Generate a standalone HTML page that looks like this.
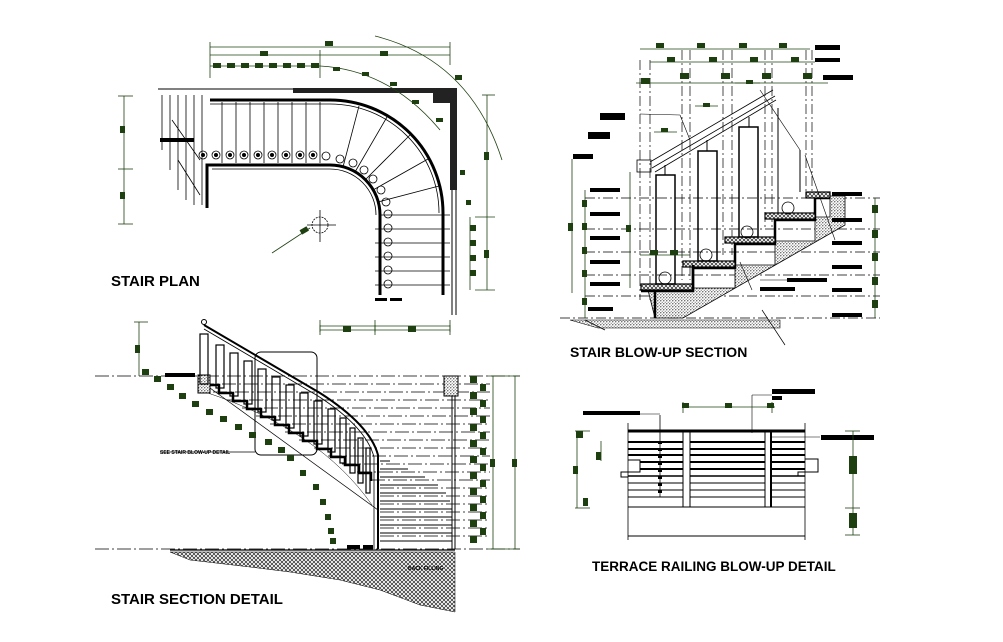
<!DOCTYPE html>
<html><head><meta charset="utf-8"><style>
html,body{margin:0;padding:0;background:#fff;}
svg{display:block;}
text{font-family:"Liberation Sans",sans-serif;font-weight:bold;}
</style></head><body>
<svg width="1003" height="642" viewBox="0 0 1003 642" xmlns="http://www.w3.org/2000/svg">
<rect width="1003" height="642" fill="#fff"/>
<defs>
<pattern id="dots" width="3" height="3" patternUnits="userSpaceOnUse"><rect width="3" height="3" fill="#fff"/><circle cx="0.8" cy="0.8" r="0.6" fill="#000"/><circle cx="2.2" cy="2.2" r="0.5" fill="#333"/></pattern>
<pattern id="hatch" width="4" height="4" patternUnits="userSpaceOnUse"><rect width="4" height="4" fill="#fff"/><path d="M0 4L4 0M0 0L4 4" stroke="#222" stroke-width="0.7"/></pattern>
</defs>

<!-- ================= STAIR PLAN ================= -->
<g stroke="#000" fill="none">
 <line x1="158" y1="89" x2="293" y2="89" stroke-width="1"/>
 <rect x="293" y="88" width="164" height="5" fill="#222" stroke="none"/>
 <rect x="433" y="88" width="24" height="15" fill="#222" stroke="none"/>
 <rect x="450" y="88" width="7" height="102" fill="#222" stroke="none"/>
 <line x1="452" y1="190" x2="452" y2="315" stroke-width="1"/>
 <line x1="456" y1="190" x2="456" y2="315" stroke-width="1"/>
 <g stroke-width="0.8">
  <line x1="162" y1="95" x2="162" y2="150"/><line x1="170" y1="95" x2="170" y2="170"/><line x1="178" y1="95" x2="178" y2="190"/>
  <line x1="186" y1="95" x2="186" y2="200"/><line x1="194" y1="95" x2="194" y2="205"/><line x1="202" y1="95" x2="202" y2="205"/>
  <line x1="172" y1="120" x2="200" y2="160"/><line x1="178" y1="160" x2="200" y2="195"/>
 </g>
 <path d="M210 100 H330 A113 113 0 0 1 443 213 V295" stroke-width="3"/>
 <path d="M210 104 H330 A109 109 0 0 1 439 213" stroke-width="0.8"/>
 <path d="M207 208 V165 H330 A50 50 0 0 1 380 215 V295" stroke-width="3"/>
 <path d="M212 169 H330 A46 46 0 0 1 376 215" stroke-width="0.8"/>
 <g stroke-width="0.8">
  <line x1="222" y1="102" x2="222" y2="163"/><line x1="236" y1="102" x2="236" y2="163"/><line x1="250" y1="102" x2="250" y2="163"/>
  <line x1="264" y1="102" x2="264" y2="163"/><line x1="278" y1="102" x2="278" y2="163"/><line x1="292" y1="102" x2="292" y2="163"/>
  <line x1="306" y1="102" x2="306" y2="163"/><line x1="320" y1="102" x2="320" y2="163"/>
  <line x1="343" y1="167" x2="359" y2="106"/><line x1="355" y1="172" x2="387" y2="117"/><line x1="365" y1="180" x2="410" y2="135"/>
  <line x1="373" y1="190" x2="428" y2="159"/><line x1="378" y1="202" x2="439" y2="186"/><line x1="380" y1="215" x2="450" y2="215"/>
  <line x1="375" y1="229" x2="450" y2="229"/><line x1="375" y1="243" x2="450" y2="243"/><line x1="375" y1="257" x2="450" y2="257"/>
  <line x1="375" y1="271" x2="450" y2="271"/><line x1="375" y1="285" x2="450" y2="285"/>
 </g>
 <g stroke-width="0.8">
  <circle cx="203" cy="155" r="4"/><circle cx="216" cy="155" r="4"/><circle cx="230" cy="155" r="4"/><circle cx="244" cy="155" r="4"/>
  <circle cx="258" cy="155" r="4"/><circle cx="272" cy="155" r="4"/><circle cx="286" cy="155" r="4"/><circle cx="300" cy="155" r="4"/>
  <circle cx="313" cy="155" r="4"/><circle cx="326" cy="156" r="4"/><circle cx="340" cy="159" r="4"/><circle cx="353" cy="163" r="4"/>
  <circle cx="364" cy="170" r="4"/><circle cx="373" cy="179" r="4"/><circle cx="381" cy="190" r="4"/><circle cx="386" cy="202" r="4"/>
  <circle cx="388" cy="214" r="4"/><circle cx="388" cy="228" r="4"/><circle cx="388" cy="242" r="4"/><circle cx="388" cy="256" r="4"/>
  <circle cx="388" cy="270" r="4"/><circle cx="388" cy="284" r="4"/>
 </g>
 <g fill="#000" stroke="none">
  <circle cx="203" cy="155" r="2"/><circle cx="216" cy="155" r="2"/><circle cx="230" cy="155" r="2"/><circle cx="244" cy="155" r="2"/>
  <circle cx="258" cy="155" r="2"/><circle cx="272" cy="155" r="2"/><circle cx="286" cy="155" r="2"/><circle cx="300" cy="155" r="2"/><circle cx="313" cy="155" r="2"/>
 </g>
 <circle cx="320" cy="225" r="8" stroke-dasharray="2 1" stroke-width="0.8"/>
 <line x1="307" y1="225" x2="336" y2="225" stroke-width="0.8"/><line x1="320" y1="210" x2="320" y2="242" stroke-width="0.8"/>
 <rect x="375" y="298" width="12" height="3" fill="#000" stroke="none"/><rect x="390" y="298" width="12" height="3" fill="#000" stroke="none"/>
 <rect x="160" y="138" width="34" height="4" fill="#000" stroke="none"/>
</g>
<g stroke="#1e4010" fill="none" stroke-width="0.8">
 <line x1="210" y1="47" x2="450" y2="47"/><line x1="210" y1="55" x2="450" y2="55"/><line x1="210" y1="66" x2="320" y2="66"/>
 <line x1="210" y1="42" x2="210" y2="78"/><line x1="450" y1="42" x2="450" y2="65"/><line x1="320" y1="50" x2="320" y2="78"/>
 <path d="M320 66 Q390 70 440 130"/>
 <path d="M375 36 Q470 60 502 160"/>
 <line x1="124" y1="96" x2="124" y2="224"/><line x1="118" y1="96" x2="133" y2="96"/><line x1="118" y1="169" x2="133" y2="169"/><line x1="118" y1="224" x2="133" y2="224"/>
 <line x1="487" y1="95" x2="487" y2="290"/><line x1="482" y1="95" x2="495" y2="95"/><line x1="475" y1="217" x2="495" y2="217"/><line x1="475" y1="290" x2="495" y2="290"/>
 <line x1="470" y1="217" x2="470" y2="290"/>
 <line x1="272" y1="253" x2="310" y2="228"/>
 <line x1="320" y1="326" x2="450" y2="326"/><line x1="320" y1="320" x2="320" y2="332"/><line x1="450" y1="320" x2="450" y2="332"/><line x1="375" y1="320" x2="375" y2="332"/>
</g>
<g fill="#1e4010">
 <rect x="325" y="41" width="8" height="5"/><rect x="260" y="51" width="8" height="5"/><rect x="380" y="51" width="8" height="5"/>
 <rect x="213" y="63" width="8" height="5"/><rect x="227" y="63" width="8" height="5"/><rect x="241" y="63" width="8" height="5"/><rect x="255" y="63" width="8" height="5"/>
 <rect x="269" y="63" width="8" height="5"/><rect x="283" y="63" width="8" height="5"/><rect x="297" y="63" width="8" height="5"/><rect x="311" y="63" width="8" height="5"/>
 <rect x="333" y="67" width="7" height="4"/><rect x="362" y="72" width="7" height="4"/><rect x="390" y="82" width="7" height="4"/><rect x="412" y="100" width="7" height="4"/>
 <rect x="436" y="118" width="7" height="4"/><rect x="455" y="75" width="7" height="5"/>
 <rect x="120" y="126" width="5" height="7"/><rect x="120" y="192" width="5" height="7"/>
 <rect x="484" y="152" width="5" height="8"/><rect x="484" y="250" width="5" height="8"/>
 <rect x="470" y="225" width="6" height="6"/><rect x="470" y="240" width="6" height="6"/><rect x="470" y="255" width="6" height="6"/><rect x="470" y="270" width="6" height="6"/>
 <rect x="460" y="170" width="5" height="5"/><rect x="466" y="200" width="5" height="5"/>
 <rect x="300" y="228" width="8" height="5" transform="rotate(-30 304 230)"/>
 <rect x="343" y="326" width="8" height="5"/><rect x="408" y="326" width="8" height="5"/>
</g>
<text x="111" y="286" font-size="15">STAIR PLAN</text>

<!-- ================= STAIR SECTION ================= -->
<g stroke="#000" fill="none" stroke-width="0.7" stroke-dasharray="14 3 2 3">
 <line x1="95" y1="376" x2="520" y2="376"/>
 <line x1="200" y1="384" x2="490" y2="384"/><line x1="213" y1="392" x2="490" y2="392"/>
 <line x1="227" y1="400" x2="490" y2="400"/><line x1="242" y1="408" x2="490" y2="408"/><line x1="256" y1="416" x2="490" y2="416"/>
 <line x1="270" y1="424" x2="490" y2="424"/><line x1="285" y1="432" x2="490" y2="432"/><line x1="299" y1="440" x2="490" y2="440"/>
 <line x1="314" y1="448" x2="490" y2="448"/><line x1="328" y1="456" x2="490" y2="456"/><line x1="342" y1="464" x2="490" y2="464"/>
 <line x1="357" y1="472" x2="490" y2="472"/><line x1="371" y1="480" x2="490" y2="480"/><line x1="380" y1="488" x2="490" y2="488"/>
 <line x1="380" y1="496" x2="490" y2="496"/><line x1="380" y1="504" x2="490" y2="504"/><line x1="380" y1="512" x2="490" y2="512"/>
 <line x1="380" y1="520" x2="490" y2="520"/><line x1="380" y1="528" x2="490" y2="528"/><line x1="380" y1="536" x2="490" y2="536"/>
 <line x1="95" y1="549" x2="520" y2="549"/>
</g>
<g stroke="#000" fill="none">
 <line x1="170" y1="550" x2="455" y2="550" stroke-width="1.2"/>
 <path d="M170 552 H455 V612 L420 605 L380 590 L340 580 L290 572 L250 567 L190 560 Z" fill="url(#hatch)" stroke-width="0.5"/>
 <path d="M205 385 h14 v8 h14 v8 h14 v8 h14 v8 h14 v8 h14 v8 h14 v8 h14 v8 h14 v8 h14 v8 h14 v8 h12 v8" stroke-width="2.5"/>
 <line x1="210" y1="388" x2="378" y2="510" stroke-width="0.7"/>
 <path d="M205 392 Q320 430 372 505" stroke-width="0.5"/>
 <rect x="198" y="375" width="12" height="18" fill="url(#dots)" stroke-width="1"/>
 <path d="M204 325 L320 393 Q370 425 378 455 V549" stroke-width="2"/>
 <path d="M204 329 L318 396 Q366 427 374 457 V549" stroke-width="0.8"/>
 <circle cx="204" cy="322" r="2.5"/>
 <g stroke-width="1.2">
  <rect x="200" y="334" width="8" height="50"/>
  <rect x="216" y="345" width="8" height="43"/><rect x="230" y="353" width="8" height="43"/><rect x="244" y="361" width="8" height="43"/>
  <rect x="258" y="369" width="8" height="43"/><rect x="272" y="377" width="8" height="43"/><rect x="286" y="385" width="8" height="43"/>
  <rect x="300" y="393" width="8" height="43"/><rect x="314" y="401" width="8" height="43"/><rect x="328" y="409" width="7" height="43"/>
  <rect x="340" y="418" width="6" height="45"/><rect x="350" y="428" width="5" height="45"/><rect x="358" y="438" width="5" height="45"/>
  <rect x="366" y="448" width="4" height="45"/>
 </g>
 <rect x="255" y="352" width="62" height="103" rx="6" stroke-width="1"/>
 <g stroke-width="1">
  <line x1="380" y1="461" x2="390" y2="461"/><line x1="380" y1="469" x2="408" y2="469"/><line x1="380" y1="477" x2="425" y2="477"/>
  <line x1="380" y1="485" x2="438" y2="485"/><line x1="380" y1="493" x2="446" y2="493"/><line x1="380" y1="501" x2="450" y2="501"/>
  <line x1="380" y1="509" x2="452" y2="509"/><line x1="380" y1="517" x2="452" y2="517"/><line x1="380" y1="525" x2="452" y2="525"/>
  <line x1="380" y1="533" x2="452" y2="533"/><line x1="380" y1="541" x2="452" y2="541"/>
 </g>
 <rect x="444" y="376" width="14" height="20" fill="url(#dots)" stroke-width="1"/>
 <line x1="452" y1="396" x2="452" y2="549"/><line x1="455" y1="396" x2="455" y2="549"/>
 <line x1="160" y1="452" x2="255" y2="452" stroke-width="0.7"/>
 <rect x="165" y="373" width="30" height="4" fill="#000" stroke="none"/>
 <rect x="347" y="545" width="13" height="4" fill="#000" stroke="none"/><rect x="363" y="545" width="10" height="4" fill="#000" stroke="none"/>
</g>
<text x="160" y="454" font-size="5" fill="#000">SEE STAIR BLOW-UP DETAIL</text>
<text x="408" y="570" font-size="5" fill="#000">BACK FILLING</text>
<g stroke="#1e4010" fill="none" stroke-width="0.8">
 <line x1="139" y1="322" x2="139" y2="376"/><line x1="134" y1="322" x2="148" y2="322"/>
 <line x1="320" y1="330" x2="450" y2="330"/><line x1="320" y1="325" x2="320" y2="335"/><line x1="375" y1="325" x2="375" y2="335"/><line x1="450" y1="325" x2="450" y2="335"/>
 <line x1="493" y1="376" x2="493" y2="549"/><line x1="515" y1="376" x2="515" y2="549"/>
 <line x1="488" y1="376" x2="520" y2="376"/><line x1="488" y1="549" x2="520" y2="549"/>
</g>
<g fill="#1e4010">
 <rect x="135" y="345" width="5" height="8"/><rect x="343" y="327" width="8" height="5"/><rect x="408" y="327" width="8" height="5"/>
 <rect x="490" y="459" width="5" height="8"/><rect x="512" y="459" width="5" height="8"/>
 <rect x="142" y="369" width="7" height="6"/><rect x="154" y="376" width="7" height="6"/><rect x="167" y="384" width="7" height="6"/>
 <rect x="179" y="393" width="7" height="6"/><rect x="192" y="401" width="7" height="6"/><rect x="206" y="409" width="7" height="6"/>
 <rect x="220" y="416" width="7" height="6"/><rect x="235" y="424" width="7" height="6"/><rect x="249" y="432" width="7" height="6"/>
 <rect x="265" y="439" width="7" height="6"/><rect x="278" y="447" width="7" height="6"/><rect x="287" y="455" width="7" height="6"/>
 <rect x="300" y="470" width="6" height="6"/><rect x="313" y="484" width="6" height="6"/><rect x="320" y="499" width="6" height="6"/>
 <rect x="325" y="514" width="6" height="6"/><rect x="328" y="528" width="6" height="6"/><rect x="330" y="538" width="6" height="6"/>
 <rect x="470" y="376" width="7" height="7"/><rect x="470" y="392" width="7" height="7"/><rect x="470" y="408" width="7" height="7"/>
 <rect x="470" y="424" width="7" height="7"/><rect x="470" y="440" width="7" height="7"/><rect x="470" y="456" width="7" height="7"/>
 <rect x="470" y="472" width="7" height="7"/><rect x="470" y="488" width="7" height="7"/><rect x="470" y="504" width="7" height="7"/>
 <rect x="470" y="520" width="7" height="7"/><rect x="470" y="536" width="7" height="7"/>
 <rect x="480" y="384" width="6" height="7"/><rect x="480" y="400" width="6" height="7"/><rect x="480" y="416" width="6" height="7"/>
 <rect x="480" y="432" width="6" height="7"/><rect x="480" y="448" width="6" height="7"/><rect x="480" y="464" width="6" height="7"/>
 <rect x="480" y="480" width="6" height="7"/><rect x="480" y="496" width="6" height="7"/><rect x="480" y="512" width="6" height="7"/><rect x="480" y="528" width="6" height="7"/>
</g>
<text x="111" y="604" font-size="15">STAIR SECTION DETAIL</text>

<!-- ================= STAIR BLOW-UP ================= -->
<g stroke="#000" fill="none" stroke-width="0.7" stroke-dasharray="10 3 2 3">
 <line x1="560" y1="318" x2="880" y2="318"/><line x1="585" y1="296" x2="880" y2="296"/><line x1="585" y1="275" x2="880" y2="275"/>
 <line x1="585" y1="252" x2="880" y2="252"/><line x1="585" y1="229" x2="880" y2="229"/><line x1="585" y1="198" x2="880" y2="198"/>
 <line x1="640" y1="60" x2="640" y2="300"/><line x1="650" y1="60" x2="650" y2="300"/><line x1="682" y1="50" x2="682" y2="280"/><line x1="690" y1="50" x2="690" y2="280"/>
 <line x1="723" y1="50" x2="723" y2="255"/><line x1="732" y1="50" x2="732" y2="255"/><line x1="765" y1="50" x2="765" y2="230"/><line x1="772" y1="50" x2="772" y2="230"/>
 <line x1="806" y1="50" x2="806" y2="195"/><line x1="812" y1="50" x2="812" y2="195"/>
</g>
<g stroke="#000" fill="none">
 <path d="M648 290 L655 318 L683 318 L845 225 L845 196 L830 196 L830 217 L815 217 L815 241 L775 241 L775 265 L735 265 L735 288 L693 288 L693 290 Z" fill="url(#dots)" stroke-width="0.8"/>
 <path d="M570 320 L780 320 L780 328 L598 328 Z" fill="url(#dots)" stroke-width="0.6"/>
 <path d="M641 291 H693 V268 H735 V244 H775 V220 H815 V198 H830" stroke-width="2.5"/>
 <rect x="641" y="284" width="52" height="6" fill="url(#hatch)" stroke-width="1.2"/>
 <rect x="683" y="261" width="52" height="6" fill="url(#hatch)" stroke-width="1.2"/>
 <rect x="725" y="237" width="50" height="6" fill="url(#hatch)" stroke-width="1.2"/>
 <rect x="765" y="213" width="50" height="6" fill="url(#hatch)" stroke-width="1.2"/>
 <rect x="806" y="192" width="24" height="6" fill="url(#hatch)" stroke-width="1.2"/>
 <line x1="655" y1="290" x2="655" y2="318" stroke-width="2.5"/>
 <line x1="693" y1="265" x2="693" y2="290" stroke-width="2.5"/>
 <g stroke-width="1.5">
  <rect x="656" y="175" width="19" height="109"/><rect x="698" y="151" width="19" height="110"/><rect x="739" y="127" width="19" height="110"/>
 </g>
 <line x1="778" y1="108" x2="778" y2="213" stroke-width="1"/><line x1="800" y1="150" x2="800" y2="192" stroke-width="1"/>
 <line x1="665" y1="165" x2="665" y2="175"/><line x1="707" y1="140" x2="707" y2="151"/><line x1="749" y1="117" x2="749" y2="127"/>
 <path d="M650 162 L773 90 M652 168 L775 96 M655 172 L776 100" stroke-width="0.8"/>
 <rect x="637" y="160" width="14" height="12" stroke-width="0.8"/>
 <line x1="585" y1="320" x2="605" y2="330" stroke-width="0.7"/><line x1="762" y1="310" x2="785" y2="345" stroke-width="0.7"/>
 <line x1="640" y1="114" x2="680" y2="115" stroke-width="0.6"/><line x1="680" y1="115" x2="690" y2="140" stroke-width="0.6"/>
 <line x1="760" y1="90" x2="800" y2="150" stroke-width="0.6"/><line x1="805" y1="155" x2="835" y2="240" stroke-width="0.6"/>
 <line x1="760" y1="280" x2="820" y2="280" stroke-width="0.6"/><line x1="740" y1="262" x2="752" y2="290" stroke-width="0.6"/>
 <circle cx="665" cy="278" r="6" stroke-width="0.8"/><circle cx="706" cy="255" r="6" stroke-width="0.8"/><circle cx="747" cy="232" r="6" stroke-width="0.8"/><circle cx="788" cy="208" r="6" stroke-width="0.8"/>
</g>
<g fill="#000">
 <rect x="815" y="45" width="25" height="5"/><rect x="815" y="58" width="25" height="4"/><rect x="823" y="75" width="30" height="5"/>
 <rect x="600" y="113" width="25" height="7"/><rect x="588" y="132" width="22" height="7"/><rect x="573" y="154" width="20" height="5"/>
 <rect x="590" y="188" width="30" height="4"/><rect x="590" y="212" width="30" height="4"/><rect x="590" y="236" width="30" height="4"/>
 <rect x="590" y="260" width="30" height="4"/><rect x="590" y="282" width="30" height="4"/><rect x="588" y="307" width="25" height="4"/>
 <rect x="832" y="192" width="30" height="4"/><rect x="832" y="218" width="30" height="4"/><rect x="832" y="241" width="30" height="4"/>
 <rect x="832" y="265" width="30" height="4"/><rect x="832" y="288" width="30" height="4"/><rect x="832" y="313" width="30" height="4"/>
 <rect x="787" y="278" width="40" height="4"/><rect x="760" y="287" width="35" height="4"/>
</g>
<g stroke="#1e4010" fill="none" stroke-width="0.8">
 <line x1="640" y1="49" x2="810" y2="49"/><line x1="650" y1="62" x2="815" y2="62"/>
 <line x1="636" y1="83" x2="828" y2="83"/>
 <line x1="572" y1="159" x2="572" y2="293"/><line x1="585" y1="190" x2="585" y2="318"/><line x1="630" y1="172" x2="630" y2="288"/>
 <line x1="875" y1="198" x2="875" y2="318"/><line x1="640" y1="255" x2="690" y2="255"/><line x1="695" y1="106" x2="718" y2="106"/><line x1="654" y1="132" x2="677" y2="132"/><line x1="735" y1="83" x2="760" y2="83"/>
</g>
<g fill="#1e4010">
 <rect x="656" y="43" width="8" height="5"/><rect x="697" y="43" width="8" height="5"/><rect x="739" y="43" width="8" height="5"/><rect x="779" y="43" width="8" height="5"/>
 <rect x="667" y="57" width="8" height="5"/><rect x="709" y="57" width="8" height="5"/><rect x="750" y="57" width="8" height="5"/><rect x="791" y="57" width="8" height="5"/>
 <rect x="641" y="78" width="9" height="6"/><rect x="680" y="73" width="9" height="6"/><rect x="721" y="73" width="9" height="6"/><rect x="762" y="73" width="9" height="6"/><rect x="803" y="73" width="9" height="6"/>
 <rect x="746" y="80" width="7" height="4"/><rect x="703" y="103" width="7" height="4"/><rect x="661" y="128" width="7" height="4"/>
 <rect x="568" y="223" width="5" height="8"/><rect x="582" y="200" width="5" height="7"/><rect x="582" y="223" width="5" height="7"/><rect x="582" y="247" width="5" height="7"/>
 <rect x="582" y="270" width="5" height="7"/><rect x="582" y="298" width="5" height="7"/><rect x="626" y="225" width="5" height="7"/>
 <rect x="872" y="205" width="6" height="8"/><rect x="872" y="230" width="6" height="8"/><rect x="872" y="253" width="6" height="8"/><rect x="872" y="277" width="6" height="8"/><rect x="872" y="300" width="6" height="8"/>
 <rect x="650" y="250" width="8" height="5"/><rect x="670" y="250" width="8" height="5"/>
</g>
<text x="570" y="357" font-size="14">STAIR BLOW-UP SECTION</text>

<!-- ================= TERRACE RAILING ================= -->
<g stroke="#000" fill="none">
 <line x1="628" y1="423" x2="628" y2="540" stroke-width="0.8"/><line x1="805" y1="423" x2="805" y2="540" stroke-width="0.8"/>
 <line x1="628" y1="431" x2="805" y2="431" stroke-width="3"/>
 <line x1="628" y1="442" x2="805" y2="442" stroke-width="2"/><line x1="628" y1="449" x2="805" y2="449" stroke-width="2"/>
 <line x1="628" y1="455" x2="805" y2="455" stroke-width="2"/><line x1="640" y1="462" x2="805" y2="462" stroke-width="2"/>
 <line x1="640" y1="469" x2="805" y2="469" stroke-width="2"/><line x1="628" y1="476" x2="805" y2="476" stroke-width="1.5"/>
 <line x1="628" y1="483" x2="805" y2="483" stroke-width="1"/><line x1="628" y1="490" x2="805" y2="490" stroke-width="1"/>
 <line x1="628" y1="497" x2="805" y2="497" stroke-width="1"/><line x1="628" y1="507" x2="805" y2="507" stroke-width="1"/>
 <line x1="628" y1="536" x2="805" y2="536" stroke-width="1"/>
 <path d="M628 460 H640 V472 H621 V477 H628" stroke-width="1"/>
 <path d="M805 459 H818 V472 H798 V476" stroke-width="1"/>
 <rect x="683" y="432" width="7" height="75" fill="#fff" stroke-width="1"/><rect x="765" y="432" width="6" height="75" fill="#fff" stroke-width="1"/>
 <line x1="771" y1="432" x2="771" y2="507" stroke-width="2"/>
 <line x1="660" y1="415" x2="660" y2="497" stroke-width="0.8"/>
 <line x1="640" y1="414" x2="660" y2="414" stroke-width="0.6"/>
 <line x1="752" y1="395" x2="752" y2="433" stroke-width="0.6"/><line x1="752" y1="395" x2="772" y2="395" stroke-width="0.6"/>
 <line x1="771" y1="437" x2="820" y2="437" stroke-width="0.6"/>
</g>
<g fill="#000">
 <rect x="583" y="411" width="57" height="4"/><rect x="772" y="389" width="43" height="5"/><rect x="772" y="396" width="10" height="4"/><rect x="821" y="435" width="53" height="5"/>
 <rect x="658" y="441" width="4" height="3"/><rect x="658" y="448" width="4" height="3"/><rect x="658" y="455" width="4" height="3"/><rect x="658" y="462" width="4" height="3"/>
 <rect x="658" y="469" width="4" height="3"/><rect x="658" y="476" width="4" height="3"/><rect x="658" y="483" width="4" height="3"/><rect x="658" y="490" width="4" height="3"/>
</g>
<g stroke="#1e4010" fill="none" stroke-width="0.8">
 <line x1="683" y1="407" x2="775" y2="407"/><line x1="683" y1="402" x2="683" y2="413"/><line x1="772" y1="402" x2="772" y2="413"/>
 <line x1="577" y1="431" x2="577" y2="508"/><line x1="575" y1="431" x2="590" y2="431"/><line x1="575" y1="508" x2="590" y2="508"/>
 <line x1="601" y1="441" x2="601" y2="461"/><line x1="853" y1="431" x2="853" y2="535"/><line x1="845" y1="431" x2="860" y2="431"/><line x1="845" y1="508" x2="860" y2="508"/><line x1="845" y1="535" x2="860" y2="535"/>
</g>
<g fill="#1e4010">
 <rect x="682" y="403" width="7" height="5"/><rect x="725" y="403" width="7" height="5"/><rect x="767" y="403" width="7" height="5"/>
 <rect x="576" y="431" width="7" height="7"/><rect x="573" y="466" width="5" height="8"/><rect x="583" y="498" width="5" height="8"/><rect x="596" y="452" width="5" height="8"/>
 <rect x="849" y="456" width="8" height="18"/><rect x="849" y="513" width="8" height="15"/>
</g>
<text x="592" y="571" font-size="13.5">TERRACE RAILING BLOW-UP DETAIL</text>
</svg>
</body></html>
